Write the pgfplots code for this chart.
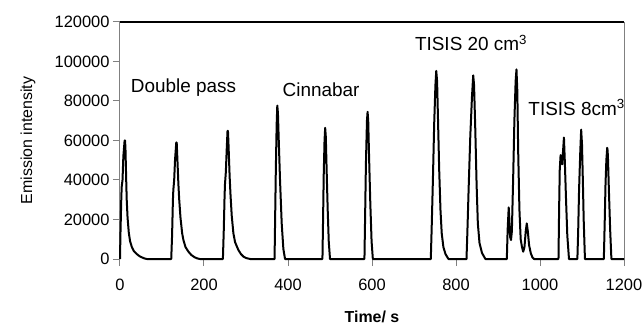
\documentclass[border=0pt]{standalone}
\usepackage{pgfplots}
\pgfplotsset{compat=1.18}
\usepackage{fontspec}
\setmainfont{Liberation Sans}
\begin{document}
\begin{tikzpicture}
\path[use as bounding box] (-120bp,-66bp) rectangle (523bp,259bp);
\begin{axis}[
  at={(0,0)}, anchor=south west,
  scale only axis, width=504bp, height=237bp,
  xmin=0, xmax=1200, ymin=0, ymax=120000,
  xtick={0,200,...,1200}, ytick={0,20000,40000,60000,80000,100000,120000},
  scaled y ticks=false,
  /pgf/number format/assume math mode=true,
  /pgf/number format/1000 sep={},
  /pgf/number format/fixed,
  tick label style={font=\fontsize{16.5}{19}\selectfont},
  xticklabel style={yshift=-9bp},
  tick align=outside, tick pos=left, major tick length=7bp,
  major tick style={draw=gray, line width=1bp},
  axis line style={draw=none},
  xlabel={\bfseries Time/ s}, ylabel={Emission intensity},
  label style={font=\fontsize{16}{19}\selectfont},
  xlabel style={at={(axis description cs:0.5,-0.245)}, anchor=center},
  ylabel style={at={(axis description cs:-0.1825,0.5)}, anchor=center},
  clip=false
]
\draw[gray, line width=1bp] (rel axis cs:0,0) -- (rel axis cs:0,1);
\draw[gray, line width=1bp] (rel axis cs:1,0) -- (rel axis cs:1,1);
\draw[black, line width=2bp] (rel axis cs:0,1) -- (rel axis cs:1,1);
\addplot[black, line width=2bp, line join=round, mark=none] coordinates {
(0,0) (1,12000) (3,30000) (4,36500) (6,40000) (8,52000) (11,60000) (12,60000) (13,56000) (15,38000) (16,30000) (18,21000) (21,13200) (24,9000) (28,6200) (33,4000) (40,2500) (46,1500) (52,850) (58,300) (64,0)
(122,0) (124,12000) (126,30000) (127,35000) (129,40000) (131,50000) (134,59000) (135,59000) (136,54000) (139,38000) (141,30000) (144,21000) (148,13000) (151,9600) (156,6000) (163,3700) (170,2000) (178,850) (184,300) (190,0)
(245,0) (247,14000) (249,32000) (250,38000) (252,44000) (254,55000) (256,64900) (257,64900) (258,60000) (261,42000) (263,33000) (266,22000) (270,13000) (274,8500) (282,4500) (288,2500) (294,1200) (300,500) (310,0)
(368,0) (369,15000) (371,45000) (373,68000) (374.5,77700) (376,74000) (378,60000) (381,40000) (385,18000) (389,5000) (393,0)
(482,0) (483.5,20000) (485,42000) (487,60000) (488.5,66400) (490,62000) (492,45000) (494.5,25000) (497,9000) (500,0)
(582,0) (583.5,20000) (585.5,48000) (588,70000) (589.5,74500) (591,70000) (593,52000) (596,28000) (599,9000) (602,0)
(740,0) (742,15000) (745,40000) (748,68000) (751,88000) (753,95200) (755,90000) (757,72000) (760,45000) (763,25000) (766,13000) (770,6000) (775,2500) (782,0)
(825,0) (827,13000) (830,35000) (834,62000) (838,82000) (841,93000) (843,88000) (846,65000) (849,38000) (852,18000) (856,8000) (862,3000) (870,0)
(921,0) (923,15000) (925.5,26100) (927,20000) (929,11000) (931,9600) (933,14000) (936,40000) (939,70000) (942,90000) (944,96000) (946,85000) (948,55000) (951,25000) (954,10000) (957,6200) (960,3700) (963,6000) (966,14000) (968.5,18000) (971,14000) (974,7000) (978,3000) (982,800) (986,0)
(1044,0) (1045.5,25000) (1047,45000) (1049,52600) (1051,50000) (1053,48000) (1055,55000) (1057,61500) (1059,50000) (1062,30000) (1065,12000) (1069,0)
(1089,0) (1091,15000) (1093,35000) (1096,55000) (1098,65500) (1100,58000) (1102,40000) (1104,20000) (1107,0)
(1152,0) (1154,18000) (1156,38000) (1158,50000) (1160,56300) (1161,55000) (1162,50000) (1164,35000) (1167,15000) (1170,0)
(1200,0)
};
\node[anchor=base west, inner sep=0pt, font=\fontsize{19}{22}\selectfont] at (axis cs:25.5,84200) {Double pass};
\node[anchor=base west, inner sep=0pt, font=\fontsize{19}{22}\selectfont] at (axis cs:387,82200) {Cinnabar};
\node[anchor=base west, inner sep=0pt, font=\fontsize{19}{22}\selectfont] at (axis cs:702,105500) {TISIS 20 cm\textsuperscript{3}};
\node[anchor=base west, inner sep=0pt, font=\fontsize{19}{22}\selectfont] at (axis cs:972,72900) {TISIS 8cm\textsuperscript{3}};
\end{axis}
\end{tikzpicture}
\end{document}
